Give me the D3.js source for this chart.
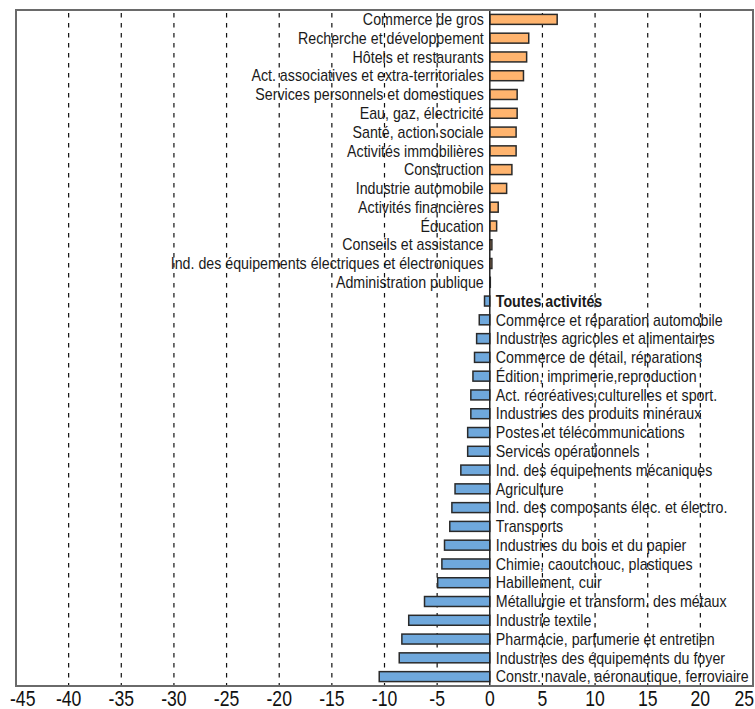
<!DOCTYPE html>
<html><head><meta charset="utf-8">
<script src="https://cdn.jsdelivr.net/npm/d3@7"></script>
<style>body{margin:0;background:#fff}svg{display:block}</style>
</head><body>
<script>
const categories = [
 "Commerce de gros","Recherche et développement","Hôtels et restaurants","Act. associatives et extra-territoriales",
 "Services personnels et domestiques","Eau, gaz, électricité","Santé, action sociale","Activités immobilières",
 "Construction","Industrie automobile","Activités financières","Éducation","Conseils et assistance",
 "Ind. des équipements électriques et électroniques","Administration publique","Toutes activités",
 "Commerce et réparation automobile","Industries agricoles et alimentaires","Commerce de détail, réparations",
 "Édition, imprimerie,reproduction","Act. récréatives,culturelles et sport.","Industries des produits minéraux",
 "Postes et télécommunications","Services opérationnels","Ind. des équipements mécaniques","Agriculture",
 "Ind. des composants élec. et électro.","Transports","Industries du bois et du papier","Chimie, caoutchouc, plastiques",
 "Habillement, cuir","Métallurgie et transform. des métaux","Industrie textile","Pharmacie, parfumerie et entretien",
 "Industries des équipements du foyer","Constr. navale, aéronautique, ferroviaire"];
const values = [6.4,3.7,3.5,3.2,2.6,2.6,2.5,2.5,2.1,1.6,0.8,0.65,0.2,0.2,0.05,
 -0.5,-1.0,-1.25,-1.45,-1.6,-1.8,-1.8,-2.1,-2.1,-2.75,-3.3,-3.6,-3.8,-4.3,-4.55,-4.95,-6.2,-7.7,-8.35,-8.6,-10.5];
const highlighted = ["Toutes activités"];
const xTicks = [-45,-40,-35,-30,-25,-20,-15,-10,-5,0,5,10,15,20,25];
const xDomain = [-45,25];

const W=755,H=709;
const m={left:16,right:2,top:10,bottom:23};
const svg=d3.select("body").append("svg").attr("width",W).attr("height",H);
const x=d3.scaleLinear().domain(xDomain).range([m.left,W-m.right]);
const y=d3.scaleBand().domain(categories).range([m.top,H-m.bottom]).paddingInner(0.47).paddingOuter(0.235);
const font="'Liberation Sans','Arial',sans-serif";
const sx=0.89;

// gridlines
svg.append("g").selectAll("line").data(xTicks.filter(t=>t!==0 && t!==xDomain[0] && t!==xDomain[1]))
 .join("line").attr("x1",d=>x(d)).attr("x2",d=>x(d)).attr("y1",m.top).attr("y2",H-m.bottom)
 .attr("stroke","#111").attr("stroke-width",1.2).attr("stroke-dasharray","4.5,5.5").attr("stroke-dashoffset",-3);

// bars
svg.append("g").selectAll("rect").data(categories).join("rect")
 .attr("x",(d,i)=>x(Math.min(0,values[i])))
 .attr("width",(d,i)=>Math.abs(x(values[i])-x(0)))
 .attr("y",d=>y(d)).attr("height",y.bandwidth())
 .attr("fill",(d,i)=>values[i]>=0?"#FFB46E":"#6FA8DC")
 .attr("stroke","#2a2a2a").attr("stroke-width",1.5);

// zero line
svg.append("line").attr("x1",x(0)).attr("x2",x(0)).attr("y1",m.top).attr("y2",H-m.bottom)
 .attr("stroke","#222").attr("stroke-width",1.5);

// labels
svg.append("g").selectAll("text").data(categories).join("text")
 .attr("transform",(d,i)=>`translate(${values[i]>=0?x(0)-6:x(0)+6},${y(d)+y.bandwidth()/2}) scale(${sx},1)`)
 .attr("dy","0.36em")
 .attr("text-anchor",(d,i)=>values[i]>=0?"end":"start")
 .attr("font-family",font).attr("font-size",16)
 .attr("font-weight",d=>highlighted.includes(d)?"bold":"normal")
 .attr("fill","#1a1a1a").text(d=>d);

// frame
svg.append("rect").attr("x",m.left).attr("y",m.top).attr("width",W-m.right-m.left).attr("height",H-m.bottom-m.top)
 .attr("fill","none").attr("stroke","#6a6a6a").attr("stroke-width",2);

// axis tick labels (via scale)
const tsx=0.8, tfs=22;
svg.append("g").selectAll("text").data(xTicks).join("text")
 .attr("font-family",font).attr("font-size",tfs).attr("fill","#111")
 .attr("text-anchor","middle")
 .text(d=>String(d))
 .each(function(d){
   const w=this.getComputedTextLength()*tsx;
   let cx=x(d);
   cx=Math.max(cx,10+w/2); cx=Math.min(cx,W-1-w/2);
   d3.select(this).attr("transform",`translate(${cx},${H-3}) scale(${tsx},1)`);
 });
</script>
</body></html>
